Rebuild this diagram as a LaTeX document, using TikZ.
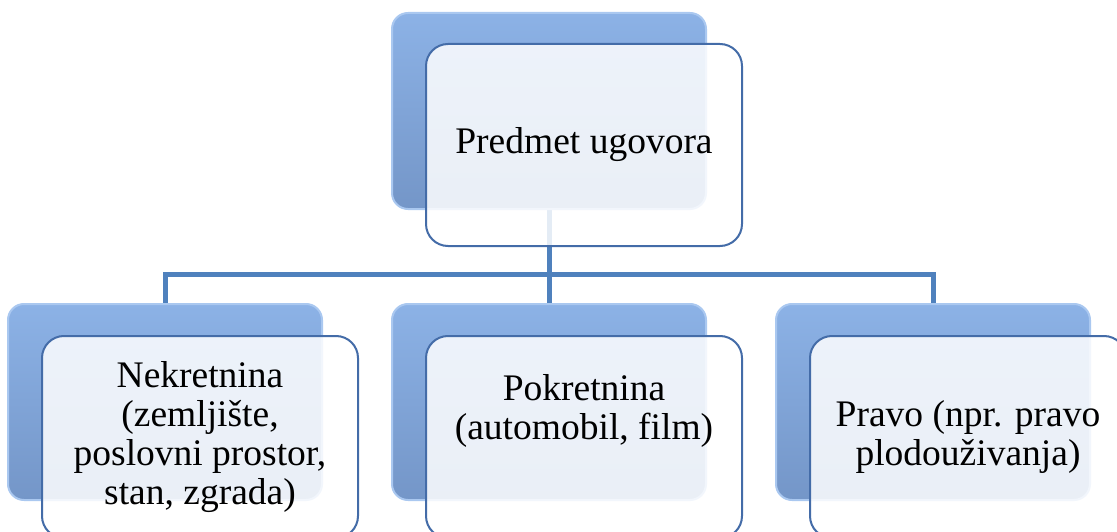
\documentclass[tikz,border=0pt]{standalone}
\usepackage{fontspec}
\setmainfont{Liberation Serif}
\usetikzlibrary{shapes, positioning, backgrounds}

\definecolor{lineblue}{RGB}{79,129,189}
\definecolor{edgeblue}{RGB}{68,108,168}
\definecolor{backtop}{RGB}{140,178,230}
\definecolor{backmid}{RGB}{124,158,208}
\definecolor{backbot}{RGB}{116,150,200}
\definecolor{backrim}{RGB}{170,200,240}

\begin{document}
\begin{tikzpicture}[x=1pt, y=-1pt,
    back/.style = {rounded corners=16pt, minimum width=314pt, minimum height=196pt, top color=backtop, middle color=backmid, bottom color=backbot, draw=backrim, line width=2pt},
    front/.style = {draw=edgeblue, line width=2pt, rounded corners=22pt, fill=white, fill opacity=0.85, minimum width=316pt, minimum height=202pt},
    txt/.style = {align=center, font=\fontsize{37.5}{39}\selectfont},
    conn/.style = {draw=lineblue, line width=5pt}]
    \useasboundingbox (0,0) rectangle (1117,532);

    \node[back] at (549, 111) (B0) {};
    \node[back] at (165, 402) (B1) {};
    \node[back] at (549, 402) (B2) {};
    \node[back] at (933, 402) (B3) {};

    \node[front] at (584, 145) (F0) {};
    \node[front] at (200, 437) (F1) {};
    \node[front] at (584, 437) (F2) {};
    \node[front] at (968, 437) (F3) {};

    \node[txt] at (F0) (T0) {Predmet ugovora};
    \node[txt] at (F1) (T1) {Nekretnina\\(zemljište,\\poslovni prostor,\\stan, zgrada)};
    \node[txt, yshift=26pt] at (F2) (T2) {Pokretnina\\(automobil, film)};
    \node[txt] at (F3) (T3) {Pravo (npr. pravo\\plodouživanja)};

    \begin{scope}[on background layer]
        \coordinate (J) at (549, 274);
        \draw[conn] (B0.south) -- (J);
        \draw[conn] (B1.north) |- (J) -| (B3.north);
        \draw[conn] (J) -- (B2.north);
    \end{scope}
\end{tikzpicture}
\end{document}
